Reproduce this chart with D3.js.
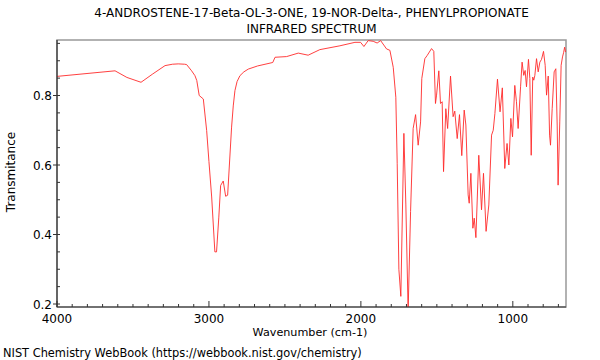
<!DOCTYPE html>
<html>
<head>
<meta charset="utf-8">
<script src="https://cdn.jsdelivr.net/npm/d3@7"></script>
<style>
  body { margin: 0; background: #fff; }
  svg { display: block; }
  text { font-family: "DejaVu Sans", sans-serif; fill: #000; }
</style>
</head>
<body>
<svg id="chart" width="600" height="360"></svg>
<script>
const titleLines = ["4-ANDROSTENE-17-Beta-OL-3-ONE, 19-NOR-Delta-, PHENYLPROPIONATE", "INFRARED SPECTRUM"];
const xLabel = "Wavenumber (cm-1)";
const yLabel = "Transmitance";
const footer = "NIST Chemistry WebBook (https://webbook.nist.gov/chemistry)";
const xTickValues = [4000, 3000, 2000, 1000];
const yTickValues = [0.2, 0.4, 0.6, 0.8];

const wavenumber = [4000,3618,3540,3447,3370,3289,3240,3202,3160,3147,3114,3092,3080,3064,3037,3015,3000,2982,2961,2950,2935,2923,2906,2890,2877,2851,2840,2829,2815,2796,2770,2741,2680,2580,2565,2489,2412,2347,2270,2138,2039,2002,1980,1952,1919,1893,1870,1831,1809,1787,1770,1761,1750,1737,1717,1704,1689,1673,1656,1640,1623,1607,1599,1579,1564,1535,1520,1509,1502,1487,1476,1465,1456,1441,1429,1410,1393,1382,1366,1351,1336,1320,1309,1294,1287,1276,1263,1254,1243,1224,1206,1193,1176,1158,1140,1129,1118,1101,1084,1069,1053,1038,1026,1013,1002,987,976,965,949,939,928,919,910,897,888,879,869,862,855,844,833,822,811,798,787,778,767,758,752,741,728,717,708,702,691,682,673,666,659,653];
const transmittance = [0.855,0.871,0.852,0.838,0.862,0.886,0.890,0.891,0.890,0.889,0.871,0.857,0.843,0.800,0.790,0.699,0.610,0.508,0.350,0.350,0.450,0.541,0.554,0.510,0.513,0.709,0.770,0.814,0.840,0.857,0.868,0.876,0.885,0.895,0.910,0.912,0.922,0.916,0.932,0.943,0.953,0.953,0.941,0.958,0.956,0.951,0.958,0.934,0.930,0.881,0.795,0.605,0.300,0.222,0.691,0.485,0.180,0.466,0.705,0.745,0.657,0.724,0.849,0.906,0.915,0.935,0.927,0.777,0.801,0.871,0.777,0.782,0.581,0.762,0.705,0.856,0.739,0.755,0.676,0.745,0.627,0.758,0.715,0.514,0.490,0.576,0.418,0.447,0.391,0.628,0.471,0.576,0.409,0.485,0.686,0.700,0.748,0.847,0.753,0.822,0.590,0.662,0.600,0.734,0.681,0.829,0.782,0.705,0.825,0.896,0.858,0.872,0.825,0.904,0.849,0.628,0.853,0.844,0.858,0.906,0.868,0.896,0.904,0.927,0.887,0.801,0.856,0.686,0.657,0.762,0.868,0.877,0.715,0.542,0.724,0.887,0.911,0.923,0.939,0.925];

const data = wavenumber.map((w, i) => ({w, t: transmittance[i]}));

const svg = d3.select("#chart");
const L = 57, R = 566, T = 40, B = 307;

const x = d3.scaleLinear().domain([4000, 650]).range([L, R]);
const y = d3.scaleLinear().domain([0.2, 0.8]).range([304, 95.5]);

// clip
svg.append("clipPath").attr("id", "clip").append("rect")
  .attr("x", L).attr("y", T).attr("width", R - L).attr("height", B - T);

// frame (top/right gray)
svg.append("rect").attr("x", L).attr("y", T).attr("width", R - L).attr("height", B - T)
  .attr("fill", "none").attr("stroke", "#999").attr("stroke-width", 1.5);

// spectrum
const line = d3.line().x(d => x(d.w)).y(d => y(d.t)).curve(d3.curveLinear);
svg.append("path").datum(data).attr("clip-path", "url(#clip)")
  .attr("d", line).attr("fill", "none").attr("stroke", "#ff2a2a").attr("stroke-width", 0.9)
  .attr("stroke-linejoin", "round");

// bottom axis
const gx = svg.append("g");
gx.append("line").attr("x1", L).attr("x2", R).attr("y1", B).attr("y2", B).attr("stroke", "#333").attr("stroke-width", 1.2);
const xMinor = d3.range(4000, 649, -100).filter(v => !xTickValues.includes(v));
gx.selectAll(".xmin").data(xMinor).join("line")
  .attr("x1", d => x(d)).attr("x2", d => x(d)).attr("y1", B).attr("y2", B - 3)
  .attr("stroke", "#333").attr("stroke-width", 1);
gx.selectAll(".xmaj").data(xTickValues).join("line")
  .attr("x1", d => x(d)).attr("x2", d => x(d)).attr("y1", B).attr("y2", B - 6)
  .attr("stroke", "#333").attr("stroke-width", 1);
gx.selectAll(".xlab").data(xTickValues).join("text")
  .attr("x", d => x(d)).attr("y", 323).attr("text-anchor", "middle")
  .attr("font-size", 12).text(d => d);

// left axis
const gy = svg.append("g");
gy.append("line").attr("x1", L).attr("x2", L).attr("y1", T).attr("y2", B).attr("stroke", "#333").attr("stroke-width", 1.2);
const yMinor = d3.range(0.2, 0.96, 0.05).map(v => +v.toFixed(2)).filter(v => !yTickValues.includes(v));
gy.selectAll(".ymin").data(yMinor).join("line")
  .attr("x1", L).attr("x2", L + 3).attr("y1", d => y(d)).attr("y2", d => y(d))
  .attr("stroke", "#333").attr("stroke-width", 1);
gy.selectAll(".ymaj").data(yTickValues).join("line")
  .attr("x1", L - 4).attr("x2", L + 3).attr("y1", d => y(d)).attr("y2", d => y(d))
  .attr("stroke", "#333").attr("stroke-width", 1);
gy.selectAll(".ylab").data(yTickValues).join("text")
  .attr("x", L - 5).attr("y", d => y(d) + 4.5).attr("text-anchor", "end")
  .attr("font-size", 12).text(d => d.toFixed(1));

// titles
svg.selectAll(".title").data(titleLines).join("text")
  .attr("x", 311.5).attr("y", (d, i) => 17 + i * 16).attr("text-anchor", "middle")
  .attr("font-size", 12).text(d => d);

svg.append("text").attr("x", 310).attr("y", 336).attr("text-anchor", "middle")
  .attr("font-size", 11.2).text(xLabel);

svg.append("text").attr("transform", "translate(15,172) rotate(-90)").attr("text-anchor", "middle")
  .attr("font-size", 12).text(yLabel);

svg.append("text").attr("x", 3).attr("y", 357).attr("font-size", 11.4).text(footer);
</script>
</body>
</html>
